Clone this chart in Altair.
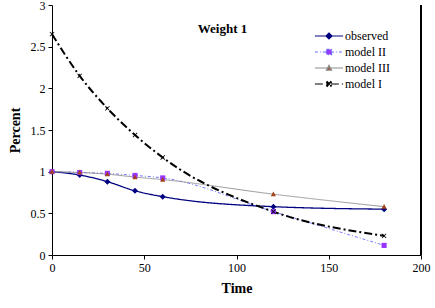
import altair as alt
import pandas as pd

time = [0, 15, 30, 45, 60, 120, 180]
observed = [1.00, 0.96, 0.88, 0.77, 0.70, 0.58, 0.55]
model_ii = [1.00, 0.99, 0.98, 0.955, 0.925, 0.52, 0.115]
model_iii = [1.00, 0.99, 0.97, 0.935, 0.905, 0.73, 0.58]
model_i = [2.65, 2.15, 1.76, 1.44, 1.17, 0.52, 0.23]

series = ["observed", "model II", "model III", "model I"]
values = [observed, model_ii, model_iii, model_i]
line_colors = ["#000080", "#6b6bff", "#8c8c8c", "#000000"]
marker_colors = ["#000080", "#9933ff", "#a3421c", "#000000"]
line_widths = [1.3, 0.9, 0.9, 2.0]
dashes = [[1, 0], [3, 2, 1, 2], [1, 0], [8, 3, 2, 3]]

diamond = "M0,-1L1,0L0,1L-1,0Z"
square = "M-0.85,-0.85L0.85,-0.85L0.85,0.85L-0.85,0.85Z"
triangle = "M0,-0.9L0.85,0.7L-0.85,0.7Z"
xmark = ("M-0.8,-0.6L-0.6,-0.8L0,-0.2L0.6,-0.8L0.8,-0.6L0.2,0L0.8,0.6L0.6,0.8"
         "L0,0.2L-0.6,0.8L-0.8,0.6L-0.2,0Z")
markers = [diamond, square, triangle, xmark]
seg = "M-4.7,0L4.7,0"
legend_shapes = [seg + m for m in markers]

rows = []
for s, vals in zip(series, values):
    for t, v in zip(time, vals):
        rows.append({"time": t, "value": v, "series": s})
df = pd.DataFrame(rows)

FONT = "Liberation Serif"

x = alt.X("time:Q", scale=alt.Scale(domain=[0, 200], nice=False),
          axis=alt.Axis(values=[0, 50, 100, 150, 200], title="Time", grid=False, labelFlush=False))
y = alt.Y("value:Q", scale=alt.Scale(domain=[0, 3], nice=False),
          axis=alt.Axis(values=[0, 0.5, 1, 1.5, 2, 2.5, 3], format="~g",
                        title="Percent", grid=False, labelFlush=False))

base = alt.Chart(df)

line_layers = []
for s, c, w, d in zip(series, line_colors, line_widths, dashes):
    line_layers.append(
        base.transform_filter(alt.datum.series == s).mark_line(
            interpolate="monotone", color=c, strokeWidth=w, strokeDash=d
        ).encode(x=x, y=y)
    )

points = base.mark_point(filled=True, size=36, opacity=1, strokeWidth=0).encode(
    x=x, y=y,
    fill=alt.Fill("series:N", scale=alt.Scale(domain=series, range=marker_colors), legend=None),
    shape=alt.Shape("series:N", scale=alt.Scale(domain=series, range=markers), legend=None),
)

leg = alt.Legend(title=None, orient="none", legendX=271, legendY=25,
                 labelFont=FONT, labelFontSize=12, labelColor="black",
                 symbolOpacity=1, symbolSize=36, labelOffset=10, rowPadding=4,
                 symbolStrokeWidth=1.2)

legend_layer = base.mark_point(filled=True, size=36, opacity=0, strokeWidth=1.2).encode(
    x=x, y=y,
    stroke=alt.Stroke("series:N", scale=alt.Scale(domain=series, range=line_colors), legend=leg),
    fill=alt.Fill("series:N", scale=alt.Scale(domain=series, range=marker_colors), legend=leg),
    shape=alt.Shape("series:N", scale=alt.Scale(domain=series, range=legend_shapes), legend=leg),
    strokeDash=alt.StrokeDash("series:N", scale=alt.Scale(domain=series, range=dashes), legend=leg),
)

border = base.mark_rule(color="black", strokeWidth=1).encode(x=alt.datum(200))

chart = alt.layer(*line_layers, points, legend_layer, border).resolve_scale(
    stroke="independent", fill="independent", shape="independent", strokeDash="independent"
).properties(
    width=369, height=250,
    autosize="none",
    padding={"left": 52, "top": 5, "right": 14, "bottom": 53},
    title=alt.TitleParams("Weight 1", font=FONT, fontSize=13, fontWeight="bold",
                          color="black", offset=-37, dx=-14),
).configure_view(stroke=None).configure_axis(
    domainColor="black", tickColor="black", tickSize=4, domainWidth=1,
    labelFont=FONT, labelFontSize=12, labelColor="black",
    titleFont=FONT, titleFontSize=14, titleFontWeight="bold", titleColor="black",
).configure_axisX(labelPadding=3, titlePadding=8).configure_axisY(labelPadding=3, titlePadding=8)

chart.save("out.html", embed_options={"renderer": "svg", "actions": False})
